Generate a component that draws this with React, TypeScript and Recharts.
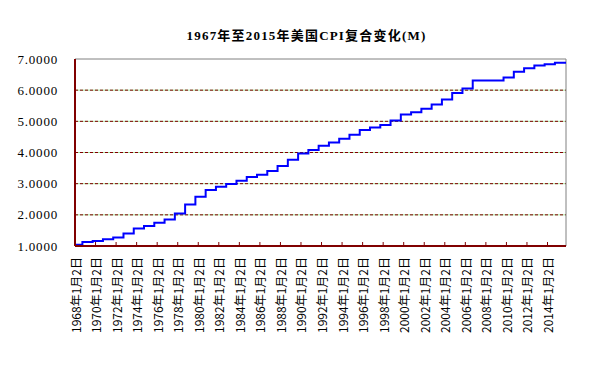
import { LineChart, Line, XAxis, YAxis, CartesianGrid, ReferenceLine } from "recharts"

// yearly compound CPI index (1967 = base)
const years = [
  1967, 1968, 1969, 1970, 1971, 1972, 1973, 1974, 1975, 1976, 1977, 1978,
  1979, 1980, 1981, 1982, 1983, 1984, 1985, 1986, 1987, 1988, 1989, 1990,
  1991, 1992, 1993, 1994, 1995, 1996, 1997, 1998, 1999, 2000, 2001, 2002,
  2003, 2004, 2005, 2006, 2007, 2008, 2009, 2010, 2011, 2012, 2013, 2014,
]
const cpiIndex = [
  1.04, 1.13, 1.16, 1.22, 1.27, 1.4, 1.56, 1.64, 1.75, 1.85, 2.04, 2.33,
  2.58, 2.8, 2.9, 2.99, 3.09, 3.21, 3.29, 3.41, 3.57, 3.77, 3.97, 4.08,
  4.22, 4.32, 4.44, 4.57, 4.72, 4.8, 4.88, 5.03, 5.22, 5.29, 5.4, 5.54,
  5.7, 5.91, 6.05, 6.31, 6.31, 6.31, 6.41, 6.59, 6.7, 6.79, 6.83, 6.88,
]
// each yearly value takes effect late in September
const effectiveMonth = 0.72
const seriesStart = 1968
const seriesEnd = 2015.8
const tickYears = [
  1968, 1970, 1972, 1974, 1976, 1978, 1980, 1982, 1984, 1986, 1988, 1990,
  1992, 1994, 1996, 1998, 2000, 2002, 2004, 2006, 2008, 2010, 2012, 2014,
]
const yTicks = [1, 2, 3, 4, 5, 6, 7]
const gridValues = [2, 3, 4, 5, 6]

const rows = years.map((y, i) => ({ t: y + effectiveMonth, cpi: cpiIndex[i] }))
rows.push({ t: seriesEnd, cpi: cpiIndex[cpiIndex.length - 1] })

const DARK_RED = "#800000"

function DateTick(props: any) {
  const { x, y, payload } = props
  return (
    <text
      x={x}
      y={y}
      transform={`rotate(-90, ${x}, ${y})`}
      textAnchor="end"
      dominantBaseline="central"
      fill="#000"
      style={{ fontFamily: "'Noto Sans CJK SC', sans-serif", fontSize: "12px" }}
    >
      {`${payload.value}年1月2日`}
    </text>
  )
}

export default function App() {
  return (
    <div
      style={{
        position: "relative",
        width: "590px",
        height: "367px",
        margin: "-8px",
        background: "#fff",
      }}
    >
      <div
        style={{
          position: "absolute",
          left: 0,
          top: "27px",
          width: "613px",
          textAlign: "center",
          lineHeight: "18px",
          fontFamily: "'Liberation Serif', 'Noto Sans CJK SC', serif",
          fontSize: "13px",
          letterSpacing: "1.2px",
          fontWeight: 700,
          color: "#000",
        }}
      >
        1967年至2015年美国CPI复合变化(M)
      </div>
      <div style={{ position: "absolute", left: 0, top: 0 }}>
        <LineChart
          width={590}
          height={367}
          data={rows}
          margin={{ top: 59, right: 24, bottom: 0, left: 0 }}
        >
          <CartesianGrid vertical={false} horizontalValues={gridValues} stroke="#a8e6a0" />
          <CartesianGrid
            vertical={false}
            horizontalValues={gridValues}
            stroke={DARK_RED}
            strokeDasharray="3 2"
          />
          <XAxis
            type="number"
            dataKey="t"
            domain={[seriesStart, seriesEnd]}
            allowDataOverflow
            ticks={tickYears}
            interval={0}
            height={121}
            axisLine={{ stroke: DARK_RED, strokeWidth: 2 }}
            tickLine={{ stroke: DARK_RED }}
            tickSize={-4}
            tickMargin={15}
            tick={<DateTick />}
          />
          <YAxis
            type="number"
            domain={[1, 7]}
            ticks={yTicks}
            interval={0}
            width={75}
            axisLine={{ stroke: DARK_RED, strokeWidth: 2 }}
            tickLine={false}
            tickMargin={11}
            tickFormatter={(v: number) => v.toFixed(4)}
            tick={{
              fill: "#000",
              fontFamily: "'Liberation Serif', serif",
              fontSize: 13,
              letterSpacing: "0.8px",
            }}
          />
          <ReferenceLine y={7} stroke="#808080" />
          <ReferenceLine x={seriesEnd} stroke="#808080" />
          <Line
            type="stepAfter"
            dataKey="cpi"
            stroke="#0000ff"
            strokeWidth={2}
            dot={false}
            isAnimationActive={false}
          />
        </LineChart>
      </div>
      <div
        style={{
          position: "absolute",
          left: "5px",
          top: "5px",
          width: "576px",
          height: "354px",
          border: "2px solid #000",
          zIndex: 3,
          pointerEvents: "none",
        }}
      />
    </div>
  )
}
